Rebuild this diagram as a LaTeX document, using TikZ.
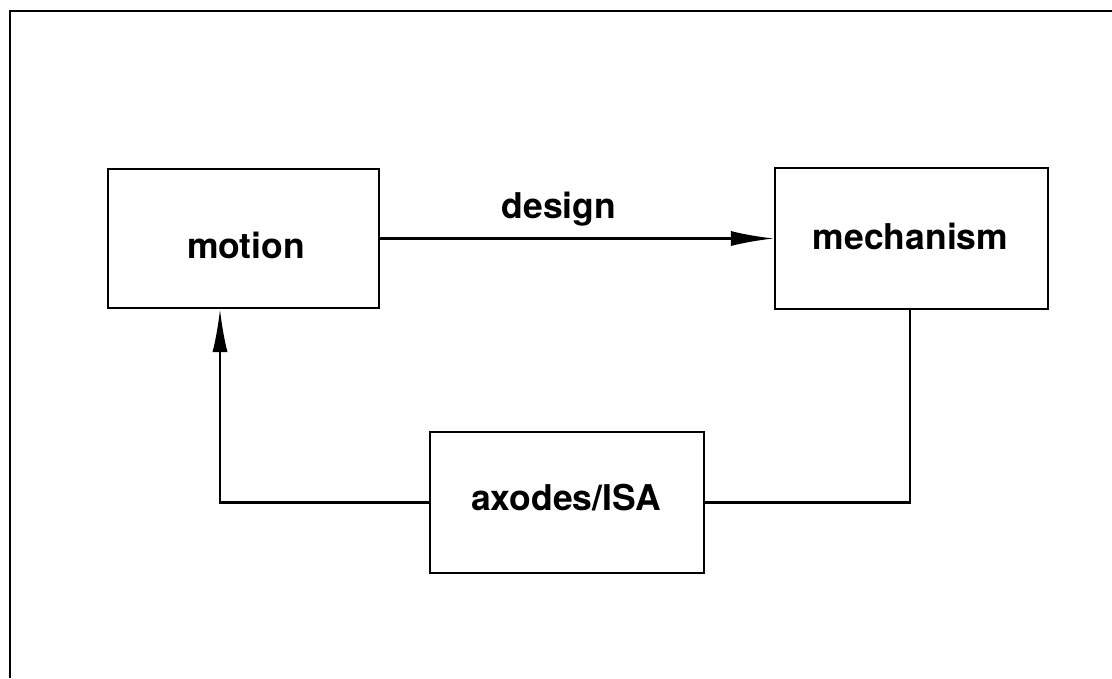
\documentclass[tikz,border=0pt]{standalone}
\usepackage{fontspec}
\setmainfont{TeX Gyre Heros}
\usetikzlibrary{arrows.meta}
\begin{document}
\begin{tikzpicture}[x=1pt,y=-1pt,
  line width=2.2pt,
  box/.style={draw, rectangle, inner sep=0pt},
  lbl/.style={anchor=base, inner sep=0pt, font=\fontsize{35.5}{42}\selectfont\bfseries},
  arr/.style={-{Latex[length=43pt,width=15pt]}}]
\useasboundingbox (0,0) rectangle (1112,678);
% frame
\draw (10,678) -- (10,11) -- (1112,11);
% boxes
\node[box, minimum width=271pt, minimum height=139pt] (motion) at (243.5,238.5) {};
\node[box, minimum width=273pt, minimum height=141pt] (mech) at (911.5,238.5) {};
\node[box, minimum width=274pt, minimum height=141pt] (axo) at (567,502.5) {};
% labels
\node[lbl] (tmotion) at (246,258) {motion};
\node[lbl] (tmech) at (910.5,249) {mechanism};
\node[lbl] (taxo) at (566,510) {axodes/ISA};
\node[lbl] (tdesign) at (559,218) {design};
% connectors
\draw[arr] (motion.east) -- (mech.west);
\draw ([xshift=-1.5pt]mech.south) |- (axo.east);
\draw[arr] (axo.west) -| ([xshift=-23.5pt]motion.south);
\end{tikzpicture}
\end{document}
